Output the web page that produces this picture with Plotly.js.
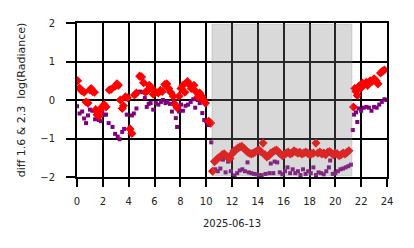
<!DOCTYPE html>
<html>
<head>
<meta charset="utf-8">
<script src="https://cdn.plot.ly/plotly-3.0.1.min.js"></script>
<style>html,body{margin:0;padding:0;background:#fff;}#chart{width:414px;height:248px;}</style>
</head>
<body>
<div id="chart"></div>
<script>
// Hours of day (2025-06-13) and diff values
const redHours = [0.05,0.2,0.35,0.55,0.7,0.85,1.0,1.1,1.2,1.35,1.45,1.55,1.7,1.8,1.95,2.1,2.25,2.5,2.65,2.95,3.1,3.2,3.35,3.5,3.6,3.75,3.9,4.1,4.25,4.45,4.6,4.85,5.0,5.15,5.3,5.45,5.6,5.75,5.9,6.1,6.3,6.45,6.6,6.8,6.95,7.1,7.25,7.45,7.6,7.75,7.9,8.05,8.2,8.35,8.55,8.7,8.85,9.05,9.2,9.35,9.5,9.65,9.8,9.95,10.2,10.35,
  10.5,10.65,10.8,10.95,11.1,11.25,11.4,11.55,11.7,11.85,12.0,12.15,12.3,12.45,12.6,12.75,12.9,13.05,13.2,13.35,13.5,13.65,13.8,13.95,14.1,14.25,14.4,14.55,14.7,14.85,15.0,15.15,15.3,15.45,15.6,15.75,15.9,16.05,16.2,16.35,16.5,16.65,16.8,16.95,17.1,17.25,17.4,17.55,17.7,17.85,18.0,18.15,18.3,18.5,18.65,18.8,18.95,19.1,19.25,19.4,19.55,19.7,19.85,20.0,20.15,20.3,20.45,20.6,20.75,20.9,21.05,
  21.4,21.5,21.6,21.7,21.8,21.95,22.1,22.25,22.4,22.5,22.7,22.85,23.0,23.15,23.3,23.5,23.65,23.8];
const redDiff = [0.5,0.31,0.24,0.2,-0.05,-0.08,0.26,0.3,0.22,0.2,-0.25,-0.38,-0.42,-0.28,-0.18,-0.12,-0.18,0.26,0.28,0.36,0.42,0.38,0.0,-0.22,-0.15,0.08,0.06,-0.75,-0.87,0.13,0.18,0.62,0.6,0.45,0.2,0.25,0.38,0.32,0.15,0.2,0.18,0.25,0.22,0.4,0.42,0.3,0.2,0.1,-0.12,-0.2,0.1,0.3,0.38,0.2,0.48,0.4,0.3,0.38,0.22,0.08,0.18,0.1,0.0,-0.08,-0.55,-0.6,
  -1.85,-1.6,-1.55,-1.5,-1.48,-1.42,-1.4,-1.45,-1.5,-1.52,-1.4,-1.32,-1.3,-1.25,-1.22,-1.2,-1.25,-1.3,-1.35,-1.38,-1.4,-1.38,-1.35,-1.32,-1.3,-1.35,-1.12,-1.42,-1.48,-1.45,-1.38,-1.35,-1.32,-1.3,-1.35,-1.4,-1.45,-1.42,-1.38,-1.35,-1.4,-1.38,-1.32,-1.35,-1.38,-1.36,-1.4,-1.38,-1.35,-1.38,-1.42,-1.4,-1.38,-1.12,-1.38,-1.35,-1.4,-1.38,-1.42,-1.36,-1.34,-1.38,-1.42,-1.38,-1.4,-1.45,-1.42,-1.38,-1.4,-1.36,-1.32,
  -0.18,0.3,0.22,0.12,0.35,0.3,0.44,0.4,0.46,0.38,0.5,0.48,0.55,0.5,0.42,0.7,0.75,0.78];

const purpleHours = [0.0,0.2,0.4,0.55,0.7,0.85,1.0,1.2,1.4,1.55,1.7,1.85,2.1,2.25,2.45,2.75,2.95,3.15,3.3,3.5,3.65,3.85,4.1,4.25,4.4,4.6,4.75,4.9,5.1,5.25,5.4,5.55,5.7,5.9,6.1,6.3,6.5,6.65,6.85,7.0,7.2,7.35,7.5,7.65,7.75,7.9,8.05,8.2,8.4,8.6,8.8,9.0,9.15,9.35,9.5,9.7,9.85,10.0,10.15,10.4,
  10.5,10.7,10.9,11.1,11.3,11.5,11.7,11.9,12.2,12.4,12.6,12.8,13.0,13.2,13.3,13.5,13.7,13.9,14.1,14.3,14.6,14.9,15.0,15.2,15.3,15.5,15.7,15.9,16.1,16.3,16.5,16.7,16.9,17.1,17.3,17.5,17.7,17.9,18.1,18.3,18.5,18.7,18.9,19.1,19.3,19.5,19.6,19.8,20.0,20.2,20.4,20.6,20.8,21.0,21.2,21.35,
  21.45,21.6,21.7,21.8,22.0,22.2,22.4,22.6,22.8,23.0,23.2,23.4,23.6,23.8,23.95];
const purpleDiff = [-0.16,-0.35,-0.3,-0.48,-0.6,-0.4,-0.25,-0.28,-0.5,-0.48,-0.52,-0.55,-0.38,-0.38,-0.6,-0.7,-0.88,-0.95,-1.02,-0.83,-0.75,-0.38,-0.75,-0.4,-0.35,-0.22,0.2,0.22,0.2,0.05,-0.18,-0.1,-0.08,-0.25,-0.08,-0.12,-0.05,0.0,-0.08,-0.05,-0.1,-0.3,-0.05,-0.47,-0.7,-0.3,-0.12,-0.28,-0.15,-0.12,-0.05,0.02,-0.2,0.0,-0.08,-0.34,-0.52,-0.55,-0.65,-1.1,
  -1.83,-1.8,-1.85,-1.78,-1.55,-1.88,-1.6,-1.85,-1.96,-1.9,-1.83,-1.8,-1.85,-1.62,-1.88,-1.9,-1.92,-1.93,-1.95,-1.95,-1.92,-1.9,-1.65,-1.9,-1.6,-1.62,-1.88,-1.93,-1.85,-1.75,-1.9,-1.8,-1.9,-1.85,-1.95,-1.8,-1.92,-1.85,-1.9,-1.75,-1.95,-1.88,-1.9,-1.93,-1.85,-1.75,-1.57,-1.92,-1.9,-1.85,-1.8,-1.78,-1.75,-1.72,-1.68,-0.78,
  -0.38,-0.32,-0.57,-0.22,-0.28,-0.2,-0.18,-0.2,-0.28,-0.18,-0.2,-0.12,-0.05,0.02,0.0];

const nightStart = 10.45, nightEnd = 21.28;
const xTicks = [0,2,4,6,8,10,12,14,16,18,20,22,24];
const yTicks = [-2,-1,0,1,2];

const font = {family: 'DejaVu Sans', size: 10, color: '#222'};
const titleFont = {family: 'DejaVu Sans', size: 11, color: '#222'};
const data = [
  {x: purpleHours, y: purpleDiff, type: 'scatter', mode: 'markers',
   marker: {symbol: 'square', size: 4, color: '#800080'}, showlegend: false, cliponaxis: true},
  {x: redHours, y: redDiff, type: 'scatter', mode: 'markers',
   marker: {symbol: 'diamond', size: 7, color: '#ff0000'}, showlegend: false, cliponaxis: true}
];
const layout = {
  width: 414, height: 248,
  margin: {l: 77, r: 27, t: 23, b: 71},
  paper_bgcolor: '#fff', plot_bgcolor: '#fff',
  font: font,
  xaxis: {range: [0, 24], tickvals: xTicks, ticktext: xTicks.map(String),
    showgrid: true, gridcolor: '#000', gridwidth: 2, zeroline: false,
    showline: true, linecolor: '#000', linewidth: 2, mirror: true,
    ticks: 'outside', ticklen: 8, tickwidth: 2, tickcolor: '#000', ticklabelstandoff: 6,
    tickfont: font, title: {text: '2025-06-13', font: font, standoff: 14}},
  yaxis: {range: [-2, 2], tickvals: yTicks,
    showgrid: true, gridcolor: '#000', gridwidth: 2, zeroline: false,
    showline: true, linecolor: '#000', linewidth: 2, mirror: true,
    ticks: 'outside', ticklen: 9, tickwidth: 2, tickcolor: '#000', ticklabelstandoff: 9,
    tickfont: font, title: {text: 'diff 1.6 & 2.3  log(Radiance)', font: titleFont, standoff: 12}},
  shapes: [{type: 'rect', xref: 'x', yref: 'y', x0: nightStart, x1: nightEnd, y0: -1.97, y1: 1.97,
    fillcolor: 'rgba(128,128,128,0.3)', line: {color: 'rgba(128,128,128,0.2)', width: 1.5}, layer: 'above'}]
};
Plotly.newPlot('chart', data, layout, {staticPlot: true, displayModeBar: false});
</script>
</body>
</html>
